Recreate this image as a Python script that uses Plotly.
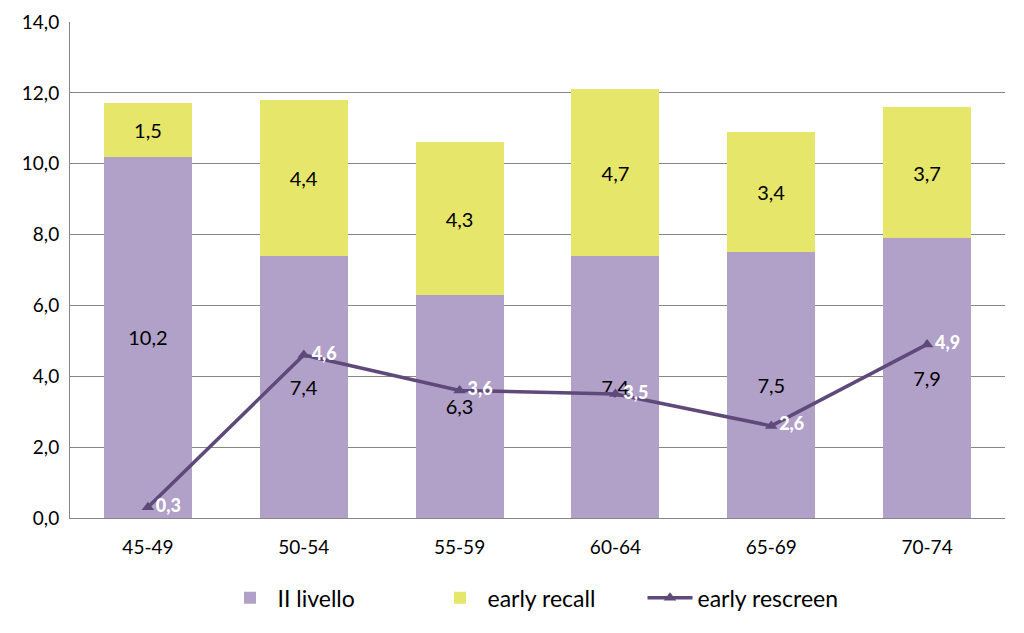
import plotly.graph_objects as go

# dati
fasce = ["45-49", "50-54", "55-59", "60-64", "65-69", "70-74"]
secondo_livello = [10.2, 7.4, 6.3, 7.4, 7.5, 7.9]
early_recall = [1.5, 4.4, 4.3, 4.7, 3.4, 3.7]
early_rescreen = [0.3, 4.6, 3.6, 3.5, 2.6, 4.9]

FONT = "Lato"


def virgola(vals):
    return [f"{v:.1f}".replace(".", ",") for v in vals]


fig = go.Figure()
fig.add_trace(go.Bar(
    x=fasce, y=secondo_livello, name="II livello",
    marker=dict(color="#B1A0C7", line=dict(width=0)),
    text=virgola(secondo_livello), textposition="inside",
    insidetextanchor="middle", textangle=0,
    textfont=dict(color="black", size=20, family=FONT),
))
fig.add_trace(go.Bar(
    x=fasce, y=early_recall, name="early recall",
    marker=dict(color="#E6E66A", line=dict(width=0)),
    text=virgola(early_recall), textposition="inside",
    insidetextanchor="middle", textangle=0,
    textfont=dict(color="black", size=20, family=FONT),
))
fig.add_trace(go.Scatter(
    x=fasce, y=early_rescreen, name="early rescreen",
    mode="lines+markers+text",
    line=dict(color="#5F497A", width=3.5),
    marker=dict(symbol="triangle-up", size=11, color="#5F497A"),
    text=virgola(early_rescreen), textposition="middle right",
    textfont=dict(color="white", size=18, family=FONT + " Black"),
    cliponaxis=False,
))

# la pagina aggiunge ~8px di margine del body: compensato nei margini
fig.update_layout(
    barmode="stack", bargap=0.435,
    width=1024, height=633,
    paper_bgcolor="white", plot_bgcolor="white",
    font=dict(family=FONT, color="black", size=19),
    separators=",.",
    margin=dict(l=62, r=27, t=14, b=123, autoexpand=False),
    xaxis=dict(
        showline=True, linecolor="#868686", linewidth=1,
        ticks="", tickfont=dict(size=19), automargin=False,
        ticklabelstandoff=12,
    ),
    yaxis=dict(
        range=[0, 14], dtick=2, tickformat=".1f",
        showgrid=True, gridcolor="#868686", gridwidth=1,
        showline=True, linecolor="#868686", linewidth=1,
        zeroline=False, ticks="", ticklabelstandoff=6,
        tickfont=dict(size=19), automargin=False,
    ),
    legend=dict(
        orientation="h", x=0.5, xanchor="center", y=-0.161, yanchor="middle",
        font=dict(size=23), traceorder="normal",
        itemwidth=45, entrywidth=150,
    ),
    showlegend=True,
)

fig.write_html("out.html")
